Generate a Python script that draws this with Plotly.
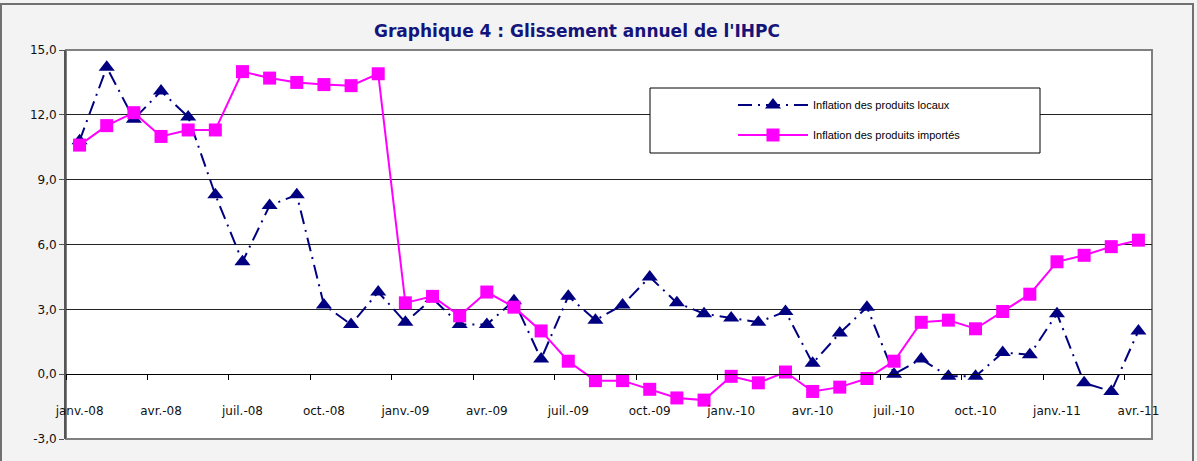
import plotly.graph_objects as go

fr = ["janv.", "févr.", "mars", "avr.", "mai", "juin", "juil.", "août", "sept.", "oct.", "nov.", "déc."]
months = [f"{m}-{yy}" for yy in ["08", "09", "10", "11"] for m in fr][:40]

locaux = [10.8, 14.2, 11.8, 13.1, 11.9, 8.3, 5.2, 7.8, 8.3, 3.2, 2.3, 3.8,
          2.4, 3.5, 2.3, 2.3, 3.4, 0.7, 3.6, 2.5, 3.2, 4.5, 3.3, 2.8,
          2.6, 2.4, 2.9, 0.5, 1.9, 3.1, 0.0, 0.7, -0.1, -0.1, 1.0, 0.9,
          2.8, -0.4, -0.8, 2.0]
importes = [10.6, 11.5, 12.1, 11.0, 11.3, 11.3, 14.0, 13.7, 13.5, 13.4, 13.35, 13.9,
            3.3, 3.6, 2.7, 3.8, 3.1, 2.0, 0.6, -0.3, -0.3, -0.7, -1.1, -1.2,
            -0.1, -0.4, 0.1, -0.8, -0.6, -0.2, 0.6, 2.4, 2.5, 2.1, 2.9, 3.7,
            5.2, 5.5, 5.9, 6.2]

y_tickvals = [-3, 0, 3, 6, 9, 12, 15]
y_ticktext = ["-3,0", "0,0", "3,0", "6,0", "9,0", "12,0", "15,0"]

names = ["Inflation des produits locaux", "Inflation des produits importés"]
title = "Graphique 4 : Glissement annuel de l'IHPC"

W, H = 1197, 461
L, R, T, B = 66, 45, 50, 22
pw, ph = W - L - R, H - T - B

def px_x(p):
    return (p - L) / pw

def px_y(p):
    return (H - B - p) / ph

fig = go.Figure()
fig.add_trace(go.Scatter(
    x=months, y=locaux, name=names[0], mode="lines+markers",
    line=dict(color="#000080", width=2, dash="14px,6px,2px,6px"),
    marker=dict(symbol="triangle-up", size=14, color="#000080"),
    legend="legend"))
fig.add_trace(go.Scatter(
    x=months, y=importes, name=names[1], mode="lines+markers",
    line=dict(color="#ff00ff", width=2),
    marker=dict(symbol="square", size=13, color="#ff00ff"),
    legend="legend2"))

shapes = [
    dict(type="rect", xref="paper", yref="paper", x0=0, x1=1, y0=0, y1=1,
         line=dict(color="#808080", width=2), fillcolor="white", layer="below"),
    dict(type="rect", xref="paper", yref="paper",
         x0=px_x(1), x1=px_x(1193), y0=px_y(470), y1=px_y(4),
         line=dict(color="#707070", width=2), layer="below"),
    dict(type="rect", xref="paper", yref="paper",
         x0=px_x(650), x1=px_x(1040), y0=px_y(153), y1=px_y(88),
         line=dict(color="black", width=1), fillcolor="white", layer="above"),
]

leg_common = dict(bgcolor="rgba(0,0,0,0)", borderwidth=0, itemwidth=70,
                  font=dict(family="Liberation Sans, Arial", size=11, color="black"),
                  xanchor="left", yanchor="middle")

tick_font = dict(family="DejaVu Sans", size=12, color="#111")

fig.update_layout(
    width=W, height=H,
    margin=dict(l=L, r=R, t=T, b=B),
    paper_bgcolor="#f3f3f3",
    plot_bgcolor="white",
    title=dict(text=f"<b>{title}</b>", x=577 / W, xref="container", xanchor="center",
               y=1 - 31 / H, yref="container", yanchor="middle",
               font=dict(family="DejaVu Sans", size=17, color="#14147a")),
    shapes=shapes,
    legend=dict(x=px_x(733), y=px_y(105), **leg_common),
    legend2=dict(x=px_x(733), y=px_y(135), **leg_common),
    xaxis=dict(type="category", anchor="free", position=3 / 18,
               dtick=3, tickson="boundaries", ticks="outside", ticklen=5,
               tickcolor="black", showgrid=False, showline=True,
               linecolor="black", linewidth=1, tickangle=0,
               ticklabelstandoff=25, tickfont=tick_font,
               range=[-0.5, 39.5]),
    yaxis=dict(range=[-3, 15], tickvals=y_tickvals, ticktext=y_ticktext, showgrid=True,
               gridcolor="#222", gridwidth=1, zeroline=True, zerolinecolor="#222",
               zerolinewidth=1, showline=True, linecolor="#555", linewidth=2,
               ticks="outside", ticklen=5, tickcolor="#555", tickfont=tick_font),
    showlegend=True,
)

fig.write_html("out.html", config={"displayModeBar": False},
               post_script="document.body.style.margin='0px';document.body.style.overflow='hidden';")
